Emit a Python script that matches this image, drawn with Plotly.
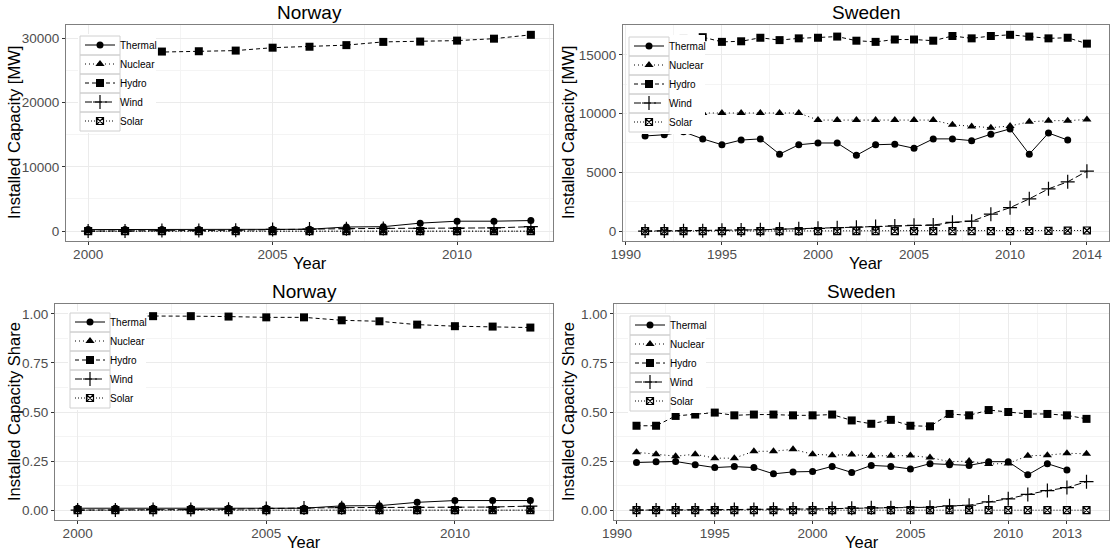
import plotly.graph_objects as go

# ---------------- data ----------------
nor_years = list(range(2000, 2013))
swe_years = list(range(1991, 2015))
sources = ["Thermal", "Nuclear", "Hydro", "Wind", "Solar"]

# Norway installed capacity [MW]
nor_thermal = [250, 250, 250, 250, 250, 300, 300, 650, 700, 1250, 1550, 1550, 1650]
nor_nuclear = [0] * 13
nor_hydro = [27600, 27700, 27900, 27950, 28050, 28500, 28650, 28900, 29400, 29450, 29600, 29900, 30500]
nor_wind = [13, 17, 97, 100, 160, 270, 320, 390, 430, 430, 430, 510, 700]
nor_solar = [0] * 13

# Sweden installed capacity [MW]
swe_thermal = [8100, 8200, 8450, 7850, 7350, 7750, 7850, 6550, 7350, 7500, 7500, 6450,
               7350, 7400, 7050, 7850, 7850, 7700, 8250, 8700, 6550, 8350, 7750, None]
swe_nuclear = [9800, 9800, 9800, 10050, 10050, 10050, 10050, 10050, 10050, 9450, 9450, 9450,
               9450, 9450, 9450, 9450, 9050, 8900, 8800, 8950, 9300, 9400, 9400, 9500]
swe_hydro = [14300, 14300, 16350, 16500, 16100, 16150, 16450, 16250, 16400, 16450, 16550, 16200,
             16100, 16300, 16300, 16200, 16600, 16400, 16600, 16700, 16550, 16400, 16450, 15950]
swe_wind = [10, 20, 30, 40, 70, 100, 120, 170, 200, 240, 300, 340,
            400, 450, 500, 520, 750, 850, 1450, 2000, 2750, 3600, 4200, 5100]
swe_solar = [2, 2, 3, 3, 3, 3, 3, 3, 3, 3, 3, 4, 4, 4, 4, 5, 6, 8, 9, 11, 15, 24, 43, 60]

# Norway installed capacity share
nor_thermal_s = [0.010, 0.010, 0.010, 0.010, 0.010, 0.010, 0.010, 0.022, 0.023, 0.040, 0.049, 0.049, 0.049]
nor_nuclear_s = [0.0] * 13
nor_hydro_s = [0.990, 0.990, 0.988, 0.988, 0.986, 0.982, 0.982, 0.967, 0.962, 0.945, 0.937, 0.935, 0.930]
nor_wind_s = [0.0005, 0.0006, 0.003, 0.003, 0.005, 0.009, 0.011, 0.013, 0.014, 0.014, 0.014, 0.016, 0.021]
nor_solar_s = [0.0] * 13

# Sweden installed capacity share
swe_thermal_s = [0.243, 0.247, 0.248, 0.232, 0.217, 0.222, 0.217, 0.185, 0.195, 0.197, 0.223, 0.192,
                 0.228, 0.223, 0.210, 0.237, 0.232, 0.228, 0.247, 0.247, 0.180, 0.237, 0.205, None]
swe_nuclear_s = [0.295, 0.285, 0.275, 0.285, 0.265, 0.265, 0.300, 0.300, 0.310, 0.285, 0.280, 0.283,
                 0.277, 0.277, 0.278, 0.268, 0.247, 0.250, 0.235, 0.238, 0.277, 0.280, 0.290, 0.287]
swe_hydro_s = [0.430, 0.430, 0.480, 0.487, 0.497, 0.483, 0.487, 0.487, 0.483, 0.483, 0.487, 0.457,
               0.440, 0.460, 0.430, 0.427, 0.490, 0.483, 0.510, 0.500, 0.490, 0.490, 0.483, 0.465]
swe_wind_s = [0.0003, 0.0006, 0.0009, 0.001, 0.002, 0.003, 0.004, 0.005, 0.006, 0.006, 0.008, 0.010,
              0.012, 0.013, 0.015, 0.015, 0.022, 0.025, 0.042, 0.058, 0.080, 0.100, 0.115, 0.145]
swe_solar_s = [0.0] * 24

# ---------------- styling ----------------
FONT = "Liberation Sans, Arial, sans-serif"
dashes = {"Thermal": "solid", "Nuclear": "1px,3px", "Hydro": "4px,3px",
          "Wind": "7px,3px", "Solar": "1px,2px"}
symbols = {"Thermal": "circle", "Nuclear": "triangle-up", "Hydro": "square",
           "Wind": "cross-thin-open", "Solar": "square-x-open"}
sizes = {"Thermal": 7, "Nuclear": 8, "Hydro": 8, "Wind": 10, "Solar": 7}

W, H = 1112, 554

panels = [
    # years, series, x axis, y axis, legend, title, y-title, legend left px, key top px, y-title shift
    (nor_years, [nor_thermal, nor_nuclear, nor_hydro, nor_wind, nor_solar],
     "x", "y", "legend", "Norway", "Installed Capacity [MW]", 80, 36, -52),
    (swe_years, [swe_thermal, swe_nuclear, swe_hydro, swe_wind, swe_solar],
     "x2", "y2", "legend2", "Sweden", "Installed Capacity [MW]", 629, 37, -55),
    (nor_years, [nor_thermal_s, nor_nuclear_s, nor_hydro_s, nor_wind_s, nor_solar_s],
     "x3", "y3", "legend3", "Norway", "Installed Capacity Share", 70, 313, -41),
    (swe_years, [swe_thermal_s, swe_nuclear_s, swe_hydro_s, swe_wind_s, swe_solar_s],
     "x4", "y4", "legend4", "Sweden", "Installed Capacity Share", 630, 316, -46),
]

fig = go.Figure()
for years, series, xa, ya, lg, title, ytitle, lx, kt, ysh in panels:
    for name, vals in zip(sources, series):
        fig.add_trace(go.Scatter(
            x=years, y=vals, name=name, mode="lines+markers",
            xaxis=xa, yaxis=ya, legend=lg, showlegend=True,
            line=dict(color="black", width=1, dash=dashes[name]),
            marker=dict(symbol=symbols[name], size=sizes[name], color="black",
                        line=dict(color="black", width=1.2 if name in ("Wind", "Solar") else 0)),
        ))

grid_major = "#EBEBEB"
grid_minor = "#F4F4F4"
tickfont = dict(family=FONT, size=13.5, color="#4D4D4D")
titlefont = dict(family=FONT, size=16.5, color="black")


def xaxis(domain, rng, tickvals, minor_vals, anchor):
    return dict(domain=domain, range=rng, tickmode="array", tickvals=tickvals,
                ticktext=[str(v) for v in tickvals],
                showgrid=True, gridcolor=grid_major, gridwidth=1,
                minor=dict(tickmode="array", tickvals=minor_vals, showgrid=True,
                           gridcolor=grid_minor, gridwidth=0.6, ticklen=0),
                showline=True, linecolor="#7F7F7F", linewidth=1, mirror=True,
                ticks="outside", ticklen=3, tickcolor="#333333", tickfont=tickfont,
                ticklabelstandoff=-2,
                zeroline=False, anchor=anchor, automargin=False)


def yaxis(domain, rng, tickvals, ticktext, minor_vals, anchor):
    return dict(domain=domain, range=rng, tickmode="array", tickvals=tickvals,
                ticktext=ticktext,
                showgrid=True, gridcolor=grid_major, gridwidth=1,
                minor=dict(tickmode="array", tickvals=minor_vals, showgrid=True,
                           gridcolor=grid_minor, gridwidth=0.6, ticklen=0),
                showline=True, linecolor="#7F7F7F", linewidth=1, mirror=True,
                ticks="outside", ticklen=3, tickcolor="#333333", tickfont=tickfont,
                zeroline=False, anchor=anchor, automargin=False)


def dx(a, b):
    return [a / W, b / W]


def dy(top, bottom):
    return [1 - bottom / H, 1 - top / H]


share_ticks = [0, 0.25, 0.5, 0.75, 1.0]
share_text = ["0.00", "0.25", "0.50", "0.75", "1.00"]
share_minor = [0.125, 0.375, 0.625, 0.875]

fig.update_layout(
    xaxis=xaxis(dx(66, 553), [1999.4, 2012.6], [2000, 2005, 2010], [2002.5, 2007.5, 2012.5], "y"),
    yaxis=yaxis(dy(25, 241), [-1525, 32025], [0, 10000, 20000, 30000],
                ["0", "10000", "20000", "30000"], [5000, 15000, 25000], "x"),
    xaxis2=xaxis(dx(623, 1109), [1989.85, 2015.15], [1990, 1995, 2000, 2005, 2010, 2014],
                 [1992.5, 1997.5, 2002.5, 2007.5, 2012], "y2"),
    yaxis2=yaxis(dy(25, 241), [-835, 17535], [0, 5000, 10000, 15000],
                 ["0", "5000", "10000", "15000"], [2500, 7500, 12500, 17500], "x2"),
    xaxis3=xaxis(dx(55, 553), [1999.4, 2012.6], [2000, 2005, 2010], [2002.5, 2007.5, 2012.5], "y3"),
    yaxis3=yaxis(dy(304, 520), [-0.05, 1.05], share_ticks, share_text, share_minor, "x3"),
    xaxis4=xaxis(dx(614, 1109), [1989.85, 2015.15], [1990, 1995, 2000, 2005, 2010, 2013],
                 [1992.5, 1997.5, 2002.5, 2007.5, 2011.5], "y4"),
    yaxis4=yaxis(dy(304, 520), [-0.05, 1.05], share_ticks, share_text, share_minor, "x4"),
)

# legends (one per panel) with ggplot-like white background and key boxes
KEY_W, ROW_H, BOX_W = 40, 19, 76
leg_common = dict(bgcolor="rgba(0,0,0,0)", borderwidth=0,
                  font=dict(family=FONT, size=10, color="black"),
                  xanchor="left", yanchor="top", itemwidth=30, tracegroupgap=0,
                  itemclick=False, itemdoubleclick=False)
shapes = []
legends = {}
for years, series, xa, ya, lg, title, ytitle, lx, kt, ysh in panels:
    legends[lg] = dict(x=lx / W, y=1 - (kt - 5.5) / H, **leg_common)
    shapes.append(dict(type="rect", xref="paper", yref="paper", layer="above",
                       x0=(lx - 2) / W, x1=(lx + BOX_W) / W,
                       y0=1 - (kt + 5 * ROW_H + 2) / H, y1=1 - (kt - 2) / H,
                       fillcolor="white", line=dict(width=0)))
    for k in range(5):
        shapes.append(dict(type="rect", xref="paper", yref="paper", layer="above",
                           x0=lx / W, x1=(lx + KEY_W) / W,
                           y0=1 - (kt + (k + 1) * ROW_H) / H, y1=1 - (kt + k * ROW_H) / H,
                           fillcolor="rgba(0,0,0,0)", line=dict(color="#D0D0D0", width=1)))
    # panel title
    fig.add_annotation(text=title, xref=f"{xa} domain", yref=f"{ya} domain", x=0.5, y=1.0,
                       xanchor="center", yanchor="bottom", yshift=0, showarrow=False,
                       font=dict(family=FONT, size=19, color="black"))
    # x axis title
    fig.add_annotation(text="Year", xref=f"{xa} domain", yref=f"{ya} domain", x=0.5, y=0.0,
                       xanchor="center", yanchor="top", yshift=-11, showarrow=False,
                       font=titlefont)
    # y axis title
    fig.add_annotation(text=ytitle, xref=f"{xa} domain", yref=f"{ya} domain", x=0.0, y=0.5,
                       xanchor="center", yanchor="middle", xshift=ysh, textangle=-90,
                       showarrow=False, font=titlefont)

fig.update_layout(shapes=shapes, **legends)

fig.update_layout(
    width=W, height=H, margin=dict(l=0, r=0, t=0, b=0),
    paper_bgcolor="white", plot_bgcolor="white",
    font=dict(family=FONT, color="black"),
)

fig.write_html("out.html", config={"displayModeBar": False},
               post_script="document.body.style.margin='0';document.body.style.padding='0';")
